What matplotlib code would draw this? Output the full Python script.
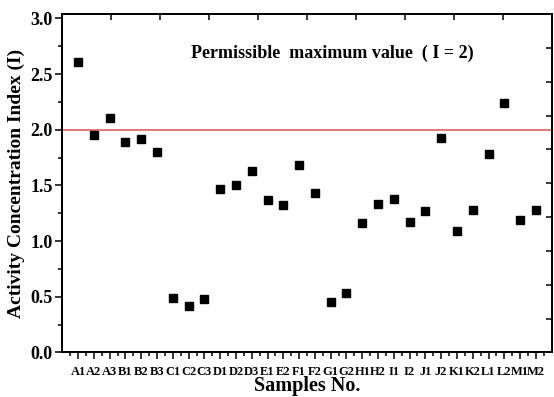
import matplotlib
matplotlib.use("Agg")
import matplotlib.pyplot as plt
import numpy as np
from matplotlib.ticker import FixedLocator

samples = ["A1", "A2", "A3", "B1", "B2", "B3", "C1", "C2", "C3", "D1", "D2", "D3",
           "E1", "E2", "F1", "F2", "G1", "G2", "H1", "H2", "I1", "I2", "J1", "J2",
           "K1", "K2", "L1", "L2", "M1", "M2"]
index_values = [2.61, 1.95, 2.11, 1.89, 1.92, 1.80, 0.49, 0.42, 0.48, 1.47, 1.50, 1.63,
                1.37, 1.32, 1.68, 1.43, 0.45, 0.53, 1.16, 1.33, 1.38, 1.17, 1.27, 1.93,
                1.09, 1.28, 1.78, 2.24, 1.19, 1.28]
limit_value = 2.0
annotation = "Permissible  maximum value  ( I = 2)"

plt.rcParams['font.family'] = ['Liberation Serif', 'DejaVu Serif']
plt.rcParams['font.weight'] = 'bold'

fig = plt.figure(figsize=(5.54, 3.97), dpi=100)
ax = fig.add_axes([0.1125, 0.1123, 0.8833, 0.8524])

YTOP = 3.04
x = np.arange(1, len(samples) + 1)
ax.axhline(limit_value, color='#d9534f', lw=1.1, zorder=1)
ax.plot(x, index_values, 's', color='black', ms=5.5, zorder=3)

ax.set_xlim(0, 31)
ax.set_ylim(0, YTOP)

for s in ax.spines.values():
    s.set_linewidth(1.3)

ax.set_xticks(x)
ax.set_xticklabels(samples, fontsize=9.0, fontweight='bold')
ax.xaxis.set_minor_locator(FixedLocator(np.arange(0.5, 31, 1.0)))
ax.tick_params(axis='x', which='major', direction='out', length=5, width=1.1, pad=4.5)
ax.tick_params(axis='x', which='minor', direction='out', length=3, width=1.1)

ax.set_yticks(np.arange(0, 3.01, 0.5))
ax.yaxis.set_minor_locator(FixedLocator(np.arange(0.25, 3.0, 0.5)))
ax.set_yticklabels([f"{v:.1f}" for v in np.arange(0, 3.01, 0.5)], fontsize=13, fontweight='bold')
ax.tick_params(axis='y', which='major', direction='out', length=5, width=1.1, pad=2)
ax.tick_params(axis='y', which='minor', direction='out', length=3, width=1.1)

# top and right decorative ticks
axt = ax.twiny()
axt.set_xlim(0, 31)
axt.set_xticks(np.linspace(0, 31, 11))
axt.set_xticklabels([])
axt.tick_params(axis='x', direction='in', length=4, width=1.1)
axr = ax.twinx()
axr.set_ylim(0, YTOP)
axr.set_yticks(np.linspace(0, YTOP, 11))
axr.set_yticklabels([])
axr.tick_params(axis='y', direction='in', length=4, width=1.1)
for a in (axt, axr):
    for s in a.spines.values():
        s.set_linewidth(1.3)

ax.set_xlabel("Samples No.", fontsize=14.5, fontweight='bold', va='center')
ax.xaxis.set_label_coords(0.5, -0.1)
ax.set_ylabel("Activity Concentration Index (I)", fontsize=14, fontweight='bold', labelpad=4)

ax.text(0.552, 0.885, annotation, transform=ax.transAxes, ha='center', va='center',
        fontsize=13, fontweight='bold')

fig.savefig("out.png", dpi=100)
